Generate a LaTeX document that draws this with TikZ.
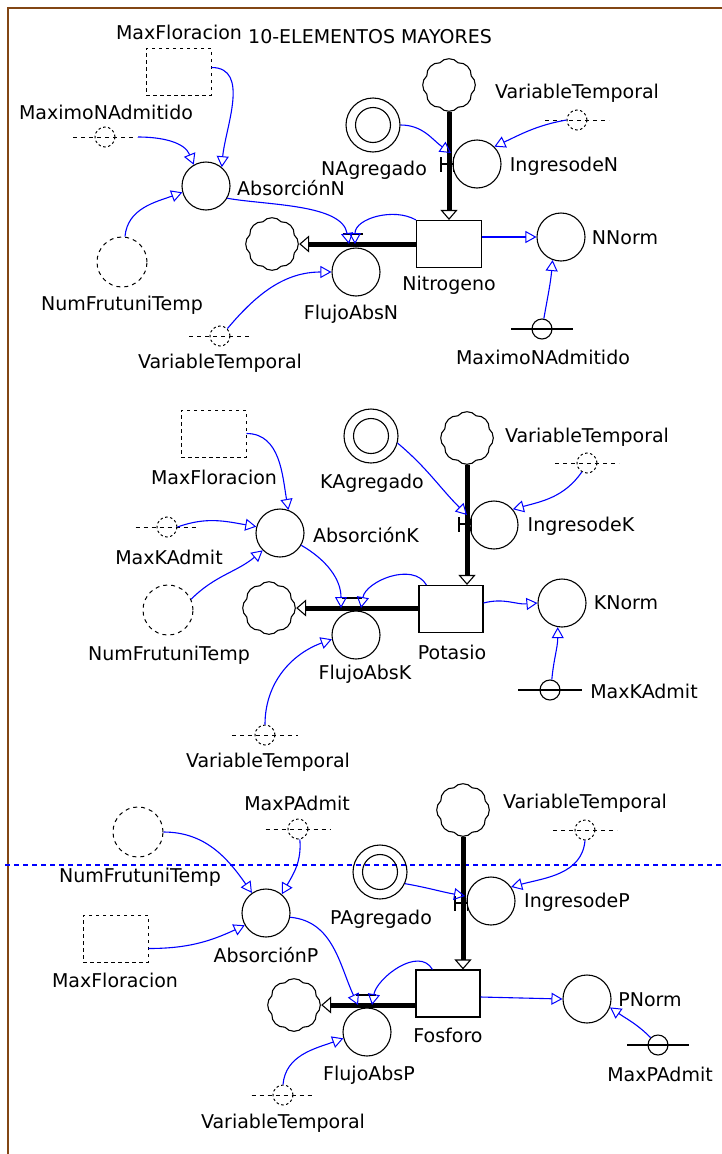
\documentclass[tikz,border=0pt]{standalone}
\usepackage{fontspec}
\setmainfont{DejaVu Sans}
\usetikzlibrary{arrows.meta,calc}
\definecolor{frameBrown}{RGB}{130,70,20}
\definecolor{linkBlue}{RGB}{0,0,255}
\tikzset{
  outl/.style={line width=1.1pt,draw=black},
  aux/.style={circle,outl,minimum size=48pt,inner sep=0pt},
  stockbox/.style={rectangle,outl,inner sep=0pt,minimum width=65pt,minimum height=47pt},
  dashrect/.style={rectangle,draw=black,line width=1pt,dash pattern=on 3.5pt off 3.5pt,inner sep=0pt,minimum width=65pt,minimum height=47pt},
  dashaux/.style={circle,draw=black,line width=1pt,dash pattern=on 4pt off 4pt,minimum size=50pt,inner sep=0pt},
  shadowd/.style={circle,draw=black,line width=1pt,dash pattern=on 2.5pt off 2.5pt,minimum size=20pt,inner sep=0pt},
  shadows/.style={circle,outl,minimum size=20pt,inner sep=0pt},
  dline/.style={draw=black,line width=1pt,dash pattern=on 4pt off 4pt},
  sline/.style={outl},
  lvl/.style={circle,outl,minimum size=54pt,inner sep=0pt},
  cloudnode/.style={circle,minimum size=54pt,inner sep=0pt},
  lbl/.style={inner sep=0pt,font=\fontsize{19pt}{22pt}\selectfont},
  link/.style={linkBlue,line width=1.1pt,-{Triangle[open,length=11pt,width=12pt,line width=1pt]}},
  pipe/.style={line width=5pt,black,-{Triangle[open,length=10pt,width=17pt,line width=1.1pt]}},
}
\newcommand{\vcloud}[1]{\draw[outl] ([shift={(22.5:24pt)}]#1.center) \foreach \a in {67.5,112.5,157.5,202.5,247.5,292.5,337.5,382.5}{to[bend right=50] ([shift={(\a:24pt)}]#1.center)};}
\newcommand{\shline}[3]{\draw[#2] ([xshift=-#3pt]#1.center) -- ([xshift=#3pt]#1.center);}
\newcommand{\hvalve}[1]{\draw[outl] ([shift={(-8pt,7pt)}]#1) -- ([shift={(-8pt,-8pt)}]#1) ([shift={(-8pt,0pt)}]#1) -- ([shift={(4.5pt,0pt)}]#1) ([shift={(4.5pt,7pt)}]#1) -- ([shift={(4.5pt,-8pt)}]#1);}
\newcommand{\ovalve}[1]{\draw[outl] ([shift={(-9pt,10pt)}]#1) -- ([shift={(11pt,10pt)}]#1);}
\begin{document}
\begin{tikzpicture}[x=1pt,y=1pt]
\useasboundingbox (0,0) rectangle (721,-1154);
\fill[white] (0,0) rectangle (721,-1154);
% frame and page-break line
\draw[frameBrown,line width=2.5pt] (8,-1160) -- (8,-8) -- (725,-8);
\draw[linkBlue,line width=1.3pt,dash pattern=on 5pt off 4pt] (5,-865) -- (721,-865);

\node[lbl] (ttl) at (370,-37) {10-ELEMENTOS MAYORES};

% ================= N section =================
\node[lbl] (lMaxFlorN) at (179,-32) {MaxFloracion};
\node[dashrect] (maxFlorN) at (178.5,-71.5) {};
\node[lbl] (lMaxNA) at (106,-112) {MaximoNAdmitido};
\node[shadowd] (shMaxN) at (105,-137) {};
\shline{shMaxN}{dline}{32}
\node[aux] (absN) at (206,-186) {};
\node[lbl] (lAbsN) at (291,-188) {AbsorciónN};
\node[dashaux] (nfN) at (122,-262) {};
\node[lbl] (lNfN) at (122,-305) {NumFrutuniTemp};
\node[cloudnode] (cloudN1) at (272,-244) {};
\vcloud{cloudN1}
\node[aux] (fluN) at (356,-272) {};
\node[lbl] (lFluN) at (351,-314) {FlujoAbsN};
\node[shadowd] (shVtN1) at (220,-336) {};
\shline{shVtN1}{dline}{31}
\node[lbl] (lVtN1) at (220,-363) {VariableTemporal};
\node[stockbox] (stockN) at (449,-244) {};
\node[lbl] (lStockN) at (449,-285) {Nitrogeno};
\node[cloudnode] (cloudN2) at (449,-85) {};
\vcloud{cloudN2}
\node[aux] (ingN) at (477,-164) {};
\node[lbl] (lIngN) at (564,-166) {IngresodeN};
\node[lvl] (nAgr) at (373,-125) {};
\draw[outl] (nAgr.center) circle[radius=17.5pt];
\node[lbl] (lNAgr) at (374,-170) {NAgregado};
\node[lbl] (lVtN2) at (577,-93) {VariableTemporal};
\node[shadowd] (shVtN2) at (577,-120) {};
\shline{shVtN2}{dline}{32}
\node[aux] (nNorm) at (561,-237) {};
\node[lbl] (lNNorm) at (625,-238) {NNorm};
\node[shadows] (shMaxN2) at (542,-329) {};
\shline{shMaxN2}{sline}{31}
\node[lbl] (lMaxN2) at (543,-357) {MaximoNAdmitido};

\coordinate (vN) at (352,-244);
\coordinate (vNa) at (349,-244);
\coordinate (vNb) at (355,-244);
\coordinate (vNin) at (449,-164);

\draw[pipe] (stockN.west) -- (cloudN1.east);
\draw[pipe] (cloudN2.south) -- (stockN.north);
\ovalve{vN}
\hvalve{vNin}

\draw[link] ([xshift=33pt]shMaxN.center) to[out=0,in=112] (absN.120);
\draw[link] ([yshift=4pt]maxFlorN.east) to[out=0,in=85] (absN.50);
\draw[link] ([xshift=3pt]nfN.north) to[out=85,in=200] (absN.195);
\draw[link] (absN.-30) to[out=-10,in=100,looseness=0.8] (vNa);
\draw[link] (shVtN1.45) to[out=50,in=180] (fluN.180);
\draw[link] (stockN.north west) to[out=150,in=90] (vNb);
\draw[link] ([yshift=7pt]stockN.east) to[out=0,in=180] (nNorm.west);
\draw[link] (shMaxN2.80) to[out=80,in=-95] (nNorm.250);
\draw[link] (nAgr.east) to[out=0,in=145] ([shift={(2pt,11pt)}]vNin);
\draw[link] (shVtN2.west) to[out=190,in=25] (ingN.45);

% ================= K section =================
\node[dashrect] (maxFlorK) at (213.5,-433.5) {};
\node[lbl] (lMaxFlorK) at (214,-477) {MaxFloracion};
\node[aux] (absK) at (280,-533) {};
\node[lbl] (lAbsK) at (366,-535) {AbsorciónK};
\node[shadowd] (shMaxK) at (167,-527) {};
\shline{shMaxK}{dline}{31.5}
\node[lbl] (lMaxK) at (169,-557) {MaxKAdmit};
\node[dashaux] (nfK) at (168,-610) {};
\node[lbl] (lNfK) at (169,-655) {NumFrutuniTemp};
\node[cloudnode] (cloudK1) at (269,-608) {};
\vcloud{cloudK1}
\node[aux] (fluK) at (356,-635) {};
\node[lbl] (lFluK) at (365,-674) {FlujoAbsK};
\node[stockbox,minimum width=64pt] (stockK) at (451,-609) {};
\node[lbl] (lStockK) at (452,-652) {Potasio};
\node[cloudnode] (cloudK2) at (467,-438) {};
\vcloud{cloudK2}
\node[aux] (ingK) at (494,-525) {};
\node[lbl] (lIngK) at (581,-526) {IngresodeK};
\node[lvl] (kAgr) at (371,-436) {};
\draw[outl] (kAgr.center) circle[radius=17.5pt];
\node[lbl] (lKAgr) at (372,-483) {KAgregado};
\node[lbl] (lVtK2) at (587,-437) {VariableTemporal};
\node[shadowd] (shVtK2) at (587,-463) {};
\shline{shVtK2}{dline}{32}
\node[aux] (kNorm) at (562,-603) {};
\node[lbl] (lKNorm) at (626,-603) {KNorm};
\node[shadows] (shMaxK2) at (550,-690) {};
\shline{shMaxK2}{sline}{32}
\node[lbl] (lMaxK2) at (644,-691) {MaxKAdmit};
\node[shadowd] (shVtK1) at (265,-735) {};
\shline{shVtK1}{dline}{33}
\node[lbl] (lVtK1) at (268,-762) {VariableTemporal};

\coordinate (vK) at (351,-608);
\coordinate (vKa) at (341,-608);
\coordinate (vKb) at (361,-608);
\coordinate (vKin) at (467,-524);

\draw[pipe] (stockK.west |- cloudK1.east) -- (cloudK1.east);
\draw[pipe] (cloudK2.south) -- (cloudK2.south |- stockK.north);
\ovalve{vK}
\hvalve{vKin}

\draw[link] (maxFlorK.east) to[out=0,in=100] (absK.70);
\draw[link] (shMaxK.east) to[out=20,in=170] (absK.165);
\draw[link] (nfK.25) to[out=45,in=220] (absK.225);
\draw[link] (absK.-30) to[out=-30,in=90] (vKa);
\draw[link] ([xshift=8pt]stockK.north west) to[out=120,in=80] (vKb);
\draw[link] (shVtK1.north) to[out=90,in=200] (fluK.190);
\draw[link] (kAgr.-15) to[out=-40,in=135] ([yshift=9pt]vKin);
\draw[link] (shVtK2.240) to[out=235,in=15] (ingK.40);
\draw[link] ([yshift=6pt]stockK.east) to[out=15,in=185] (kNorm.west);
\draw[link] (shMaxK2.80) to[out=85,in=-90] (kNorm.260);

% ================= P section =================
\node[dashaux] (nfP) at (138,-832) {};
\node[lbl] (lNfP) at (140,-877) {NumFrutuniTemp};
\node[lbl] (lMaxP) at (297,-803) {MaxPAdmit};
\node[shadowd] (shMaxP) at (298,-829) {};
\shline{shMaxP}{dline}{32.5}
\node[aux] (absP) at (266,-913) {};
\node[lbl] (lAbsP) at (266,-955) {AbsorciónP};
\node[dashrect] (maxFlorP) at (115.5,-938.5) {};
\node[lbl] (lMaxFlorP) at (115,-980) {MaxFloracion};
\node[lvl] (pAgr) at (380,-872) {};
\draw[outl] (pAgr.center) circle[radius=17.5pt];
\node[lbl] (lPAgr) at (381,-919) {PAgregado};
\node[cloudnode] (cloudP2) at (463,-810) {};
\vcloud{cloudP2}
\node[aux] (ingP) at (491,-901) {};
\node[lbl] (lIngP) at (577,-902) {IngresodeP};
\node[lbl] (lVtP2) at (585,-803) {VariableTemporal};
\node[shadowd] (shVtP2) at (585,-830) {};
\shline{shVtP2}{dline}{32}
\node[stockbox,minimum width=64pt] (stockP) at (448,-993.5) {};
\node[lbl] (lStockP) at (448,-1035) {Fosforo};
\node[cloudnode] (cloudP1) at (294,-1005) {};
\vcloud{cloudP1}
\node[aux] (fluP) at (367,-1032) {};
\node[lbl] (lFluP) at (369,-1075) {FlujoAbsP};
\node[shadowd] (shVtP1) at (283,-1095) {};
\shline{shVtP1}{dline}{31.5}
\node[lbl] (lVtP1) at (283,-1123) {VariableTemporal};
\node[aux] (pNorm) at (587,-999) {};
\node[lbl] (lPNorm) at (650,-1000) {PNorm};
\node[shadows] (shMaxP2) at (658,-1045) {};
\shline{shMaxP2}{sline}{31}
\node[lbl] (lMaxP2) at (660,-1074) {MaxPAdmit};

\coordinate (vP) at (365,-1005);
\coordinate (vPa) at (358,-1005);
\coordinate (vPb) at (372,-1005);
\coordinate (vPin) at (463,-903);

\draw[pipe] (stockP.west |- cloudP1.east) -- (cloudP1.east);
\draw[pipe] (cloudP2.south) -- (cloudP2.south |- stockP.north);
\ovalve{vP}
\hvalve{vPin}

\draw[link] (shMaxP.-80) to[out=-85,in=60] (absP.50);
\draw[link] (nfP.east) to[out=0,in=125] (absP.125);
\draw[link] ([yshift=-10pt]maxFlorP.east) to[out=0,in=205] (absP.210);
\draw[link] (absP.-10) to[out=-5,in=115] (vPa);
\draw[link] ([xshift=17pt]stockP.north west) to[out=120,in=80] (vPb);
\draw[link] (shVtP1.north) to[out=85,in=200] (fluP.195);
\draw[link] (pAgr.-25) to[out=-10,in=170] ([shift={(2pt,7pt)}]vPin);
\draw[link] (shVtP2.south) to[out=-95,in=15] (ingP.35);
\draw[link] ([yshift=-3.5pt]stockP.east) -- (pNorm.west);
\draw[link] (shMaxP2.135) to[out=135,in=-35] (pNorm.-20);
\end{tikzpicture}
\end{document}
